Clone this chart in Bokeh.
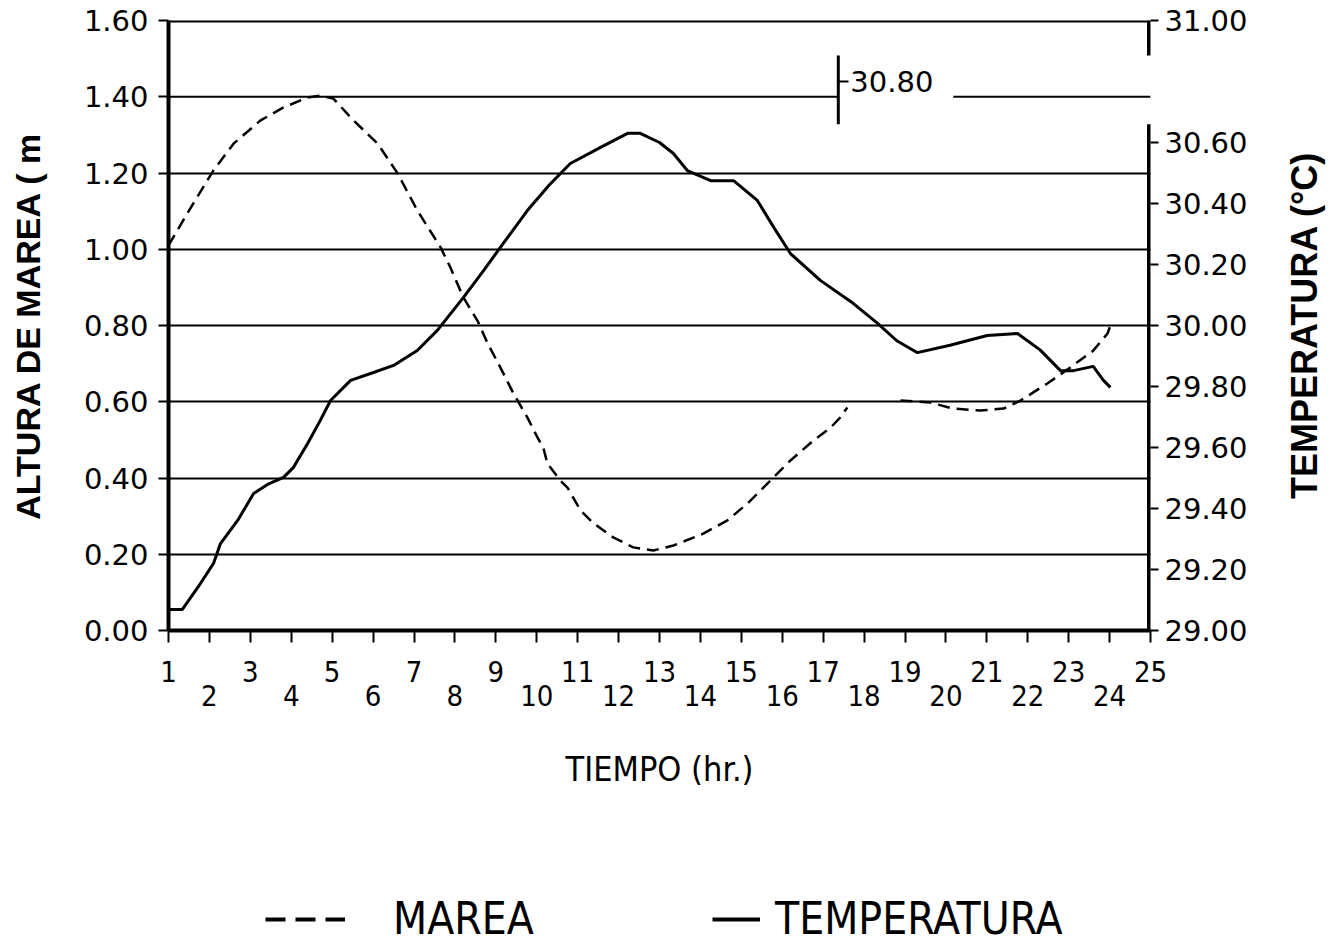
import numpy as np
from bokeh.plotting import figure
from bokeh.layouts import column, row
from bokeh.models import (Range1d, LinearAxis, FixedTicker, NumeralTickFormatter,
                          Legend, LegendItem, Label, Span)
from bokeh.embed import file_html
from bokeh.resources import INLINE

# ---------------- data ----------------
hour_ticks = list(range(1, 26))

# MAREA (tide height, m) - dashed curve; NaN = gap in the drawn line
tide_hour = [1.00, 1.46, 2.10, 2.59, 3.25, 3.81, 4.40, 4.71, 5.03, 5.52, 6.11, 6.60,
             7.08, 7.65, 7.89, 8.21, 8.55, 8.80, 9.11, 9.43, 9.77, 10.02, 10.16, 10.26,
             10.58, 10.75, 11.07, 11.39, 11.87, 12.36, 12.85, 13.34, 14.07, 14.66, 15.15,
             15.71, 16.20, 16.76, 17.18, 17.42, 17.59, np.nan,
             18.89, 19.62, 20.18, 20.84, 21.41, 21.82, 22.48, 23.04, 23.60, 23.95, 24.02]
tide_m = [1.010, 1.094, 1.207, 1.277, 1.338, 1.372, 1.398, 1.403, 1.395, 1.338, 1.277, 1.199,
          1.102, 1.005, 0.952, 0.873, 0.813, 0.753, 0.690, 0.622, 0.559, 0.506, 0.480, 0.438,
          0.393, 0.375, 0.315, 0.281, 0.244, 0.218, 0.210, 0.223, 0.254, 0.289, 0.333,
          0.393, 0.446, 0.498, 0.532, 0.559, 0.585, np.nan,
          0.603, 0.598, 0.582, 0.577, 0.582, 0.603, 0.648, 0.690, 0.734, 0.779, 0.800]

# TEMPERATURA (deg C) - solid curve
temp_hour = [1.00, 1.34, 1.78, 2.10, 2.27, 2.69, 3.08, 3.42, 3.81, 4.05, 4.40, 4.71, 4.96,
             5.45, 6.01, 6.50, 7.08, 7.57, 8.21, 8.70, 9.11, 9.77, 10.30, 10.82, 11.56,
             12.22, 12.53, 13.00, 13.34, 13.68, 14.25, 14.81, 15.39, 15.80, 16.20, 16.93,
             17.74, 18.33, 18.80, 19.21, 19.30, 20.10, 21.01, 21.75, 22.30, 22.80, 23.12,
             23.60, 23.85, 24.02]
temp_c = [29.069, 29.069, 29.154, 29.220, 29.285, 29.361, 29.449, 29.479, 29.502, 29.534,
          29.613, 29.689, 29.754, 29.820, 29.846, 29.869, 29.918, 29.984, 30.092, 30.180,
          30.256, 30.377, 30.460, 30.531, 30.584, 30.630, 30.630, 30.600, 30.564, 30.508,
          30.475, 30.475, 30.410, 30.320, 30.236, 30.148, 30.072, 30.007, 29.950, 29.918,
          29.911, 29.935, 29.967, 29.974, 29.920, 29.852, 29.852, 29.866, 29.820, 29.797]

left_ticks = [0.0, 0.2, 0.4, 0.6, 0.8, 1.0, 1.2, 1.4, 1.6]
grid_levels = [0.2, 0.4, 0.6, 0.8, 1.0, 1.2]
broken_grid_level = 1.4    # gridline interrupted by the 30.80 label
right_ticks = [29.0, 29.2, 29.4, 29.6, 29.8, 30.0, 30.2, 30.4, 30.6, 31.0]
moved_tick = 30.8          # the 30.80 tick drawn away from the right axis
moved_tick_hour = 17.37    # where that displaced axis piece sits
label_gap_end_hour = 20.18 # gridline resumes after the label
axis_gap = (30.66, 30.885) # part of the right axis moved inside the chart

# ---------------- figure ----------------
COND = "DejaVu Sans Condensed"
p = figure(width=1268, height=800, x_range=Range1d(1, 25), y_range=Range1d(0, 1.6),
           output_backend="svg", toolbar_location=None,
           min_border_left=168, min_border_right=118, min_border_top=20, min_border_bottom=170,
           outline_line_color=None, background_fill_color="white", border_fill_color="white")
p.extra_y_ranges = {"temp": Range1d(29, 31)}

p.xgrid.visible = False
p.ygrid.ticker = FixedTicker(ticks=grid_levels)
p.ygrid.grid_line_color = "black"
p.ygrid.grid_line_width = 2

# left axis
ya = p.yaxis[0]
ya.ticker = FixedTicker(ticks=left_ticks)
ya.formatter = NumeralTickFormatter(format="0.00")
ya.axis_line_width = 4
ya.major_tick_out = 10
ya.major_tick_in = 0
ya.major_tick_line_width = 2
ya.minor_tick_line_color = None
ya.major_label_standoff = 10
ya.major_label_text_font = "DejaVu Sans"
ya.major_label_text_font_size = "29px"
ya.major_label_text_color = "black"
ya.axis_label = "ALTURA DE MAREA ( m"
ya.axis_label_text_font = "Liberation Sans"
ya.axis_label_text_font_style = "bold"
ya.axis_label_text_font_size = "34px"
ya.axis_label_standoff = 34
ya.axis_label_text_color = "black"

# right axis
ra = LinearAxis(y_range_name="temp", ticker=FixedTicker(ticks=right_ticks),
                formatter=NumeralTickFormatter(format="0.00"))
ra.axis_line_color = None
ra.major_tick_out = 8
ra.major_tick_in = 0
ra.major_tick_line_width = 2
ra.minor_tick_line_color = None
ra.major_label_standoff = 6
ra.major_label_text_font = "DejaVu Sans"
ra.major_label_text_font_size = "29px"
ra.major_label_text_color = "black"
p.add_layout(ra, "right")

# bottom axes (odd hours on the first row, even hours on the second)
xa = p.xaxis[0]
xa.ticker = FixedTicker(ticks=hour_ticks)
xa.major_label_overrides = {h: (str(h) if h % 2 else "") for h in hour_ticks}
xa.axis_line_width = 4
xa.major_tick_out = 12
xa.major_tick_in = 0
xa.major_tick_line_width = 2
xa.minor_tick_line_color = None
xa.major_label_standoff = 18
xa.major_label_text_font = COND
xa.major_label_text_font_size = "29px"
xa.major_label_text_color = "black"

xa2 = LinearAxis(ticker=FixedTicker(ticks=[h for h in hour_ticks if h % 2 == 0]))
xa2.axis_line_color = None
xa2.major_tick_line_color = None
xa2.minor_tick_line_color = None
xa2.major_tick_out = 0
xa2.major_tick_in = 0
xa2.major_label_standoff = 0
xa2.major_label_text_font = COND
xa2.major_label_text_font_size = "29px"
xa2.major_label_text_color = "black"
xa2.axis_label = "TIEMPO (hr.)"
xa2.axis_label_text_font = COND
xa2.axis_label_text_font_style = "normal"
xa2.axis_label_text_font_size = "34px"
xa2.axis_label_standoff = 40
xa2.axis_label_text_color = "black"
p.add_layout(xa2, "below")

# top border
p.add_layout(Span(location=1.6, dimension="width", line_color="black", line_width=4))

# gridline broken by the 30.80 label
p.segment(x0=[1, label_gap_end_hour], y0=[broken_grid_level] * 2,
          x1=[moved_tick_hour, 25], y1=[broken_grid_level] * 2, line_color="black", line_width=2)

# right axis line, with the piece that was moved inside the plot
p.segment(x0=[25, 25], y0=[29.0, axis_gap[1]], x1=[25, 25], y1=[axis_gap[0], 31.0],
          y_range_name="temp", line_color="black", line_width=7)
p.segment(x0=[moved_tick_hour], y0=[axis_gap[0]], x1=[moved_tick_hour], y1=[axis_gap[1]],
          y_range_name="temp", line_color="black", line_width=3)
p.segment(x0=[moved_tick_hour], y0=[moved_tick], x1=[moved_tick_hour + 0.25], y1=[moved_tick],
          y_range_name="temp", line_color="black", line_width=2)
p.add_layout(Label(x=moved_tick_hour, y=moved_tick, y_range_name="temp",
                   text=f"{moved_tick:.2f}", text_font="DejaVu Sans", text_font_size="29px",
                   text_baseline="middle", x_offset=12, text_color="black"))

# data lines
r_tide = p.line(tide_hour, tide_m, line_color="black", line_width=2.5, line_dash="12 7")
r_temp = p.line(temp_hour, temp_c, y_range_name="temp", line_color="black", line_width=3)

# ---------------- legend strip (frame aligns with the chart frame) ----------------
p2 = figure(width=1268, height=144, x_range=Range1d(0, 1), y_range=Range1d(0, 1),
            output_backend="svg", toolbar_location=None, x_axis_location=None,
            y_axis_location=None, min_border=0, outline_line_color=None,
            background_fill_color="white", border_fill_color="white")
p2.grid.visible = False
leg_tide = p2.line(x=[np.nan], y=[np.nan], line_color="black", line_width=4, line_dash="20 10")
leg_temp = p2.line(x=[np.nan], y=[np.nan], line_color="black", line_width=4)

common = dict(orientation="horizontal", padding=0, margin=0, border_line_color=None,
              background_fill_alpha=0, label_text_font=COND, label_text_font_size="44px",
              label_text_color="black", glyph_height=20)
lg1 = Legend(items=[LegendItem(label="MAREA", renderers=[leg_tide])], location=(97, 0),
             glyph_width=80, label_standoff=48, **common)
lg2 = Legend(items=[LegendItem(label="TEMPERATURA", renderers=[leg_temp])], location=(544, 0),
             glyph_width=48, label_standoff=15, **common)
p2.add_layout(lg1)
p2.add_layout(lg2)

# ---------------- right-hand title strip (reads bottom-to-top) ----------------
pt = figure(width=70, height=944, x_range=Range1d(0, 1), y_range=Range1d(0, 1),
            output_backend="svg", toolbar_location=None, x_axis_location=None,
            y_axis_location=None, min_border=0, outline_line_color=None,
            background_fill_color="white", border_fill_color="white")
pt.grid.visible = False
pt.add_layout(Label(x=0.52, y=0.656, angle=np.pi / 2, text="TEMPERATURA (°C)",
                    text_font="Liberation Sans", text_font_style="bold", text_font_size="36px",
                    text_align="center", text_baseline="middle", text_color="black"))

layout = row(column(p, p2, spacing=0), pt, spacing=0)
open("out.html", "w").write(file_html(layout, INLINE))
